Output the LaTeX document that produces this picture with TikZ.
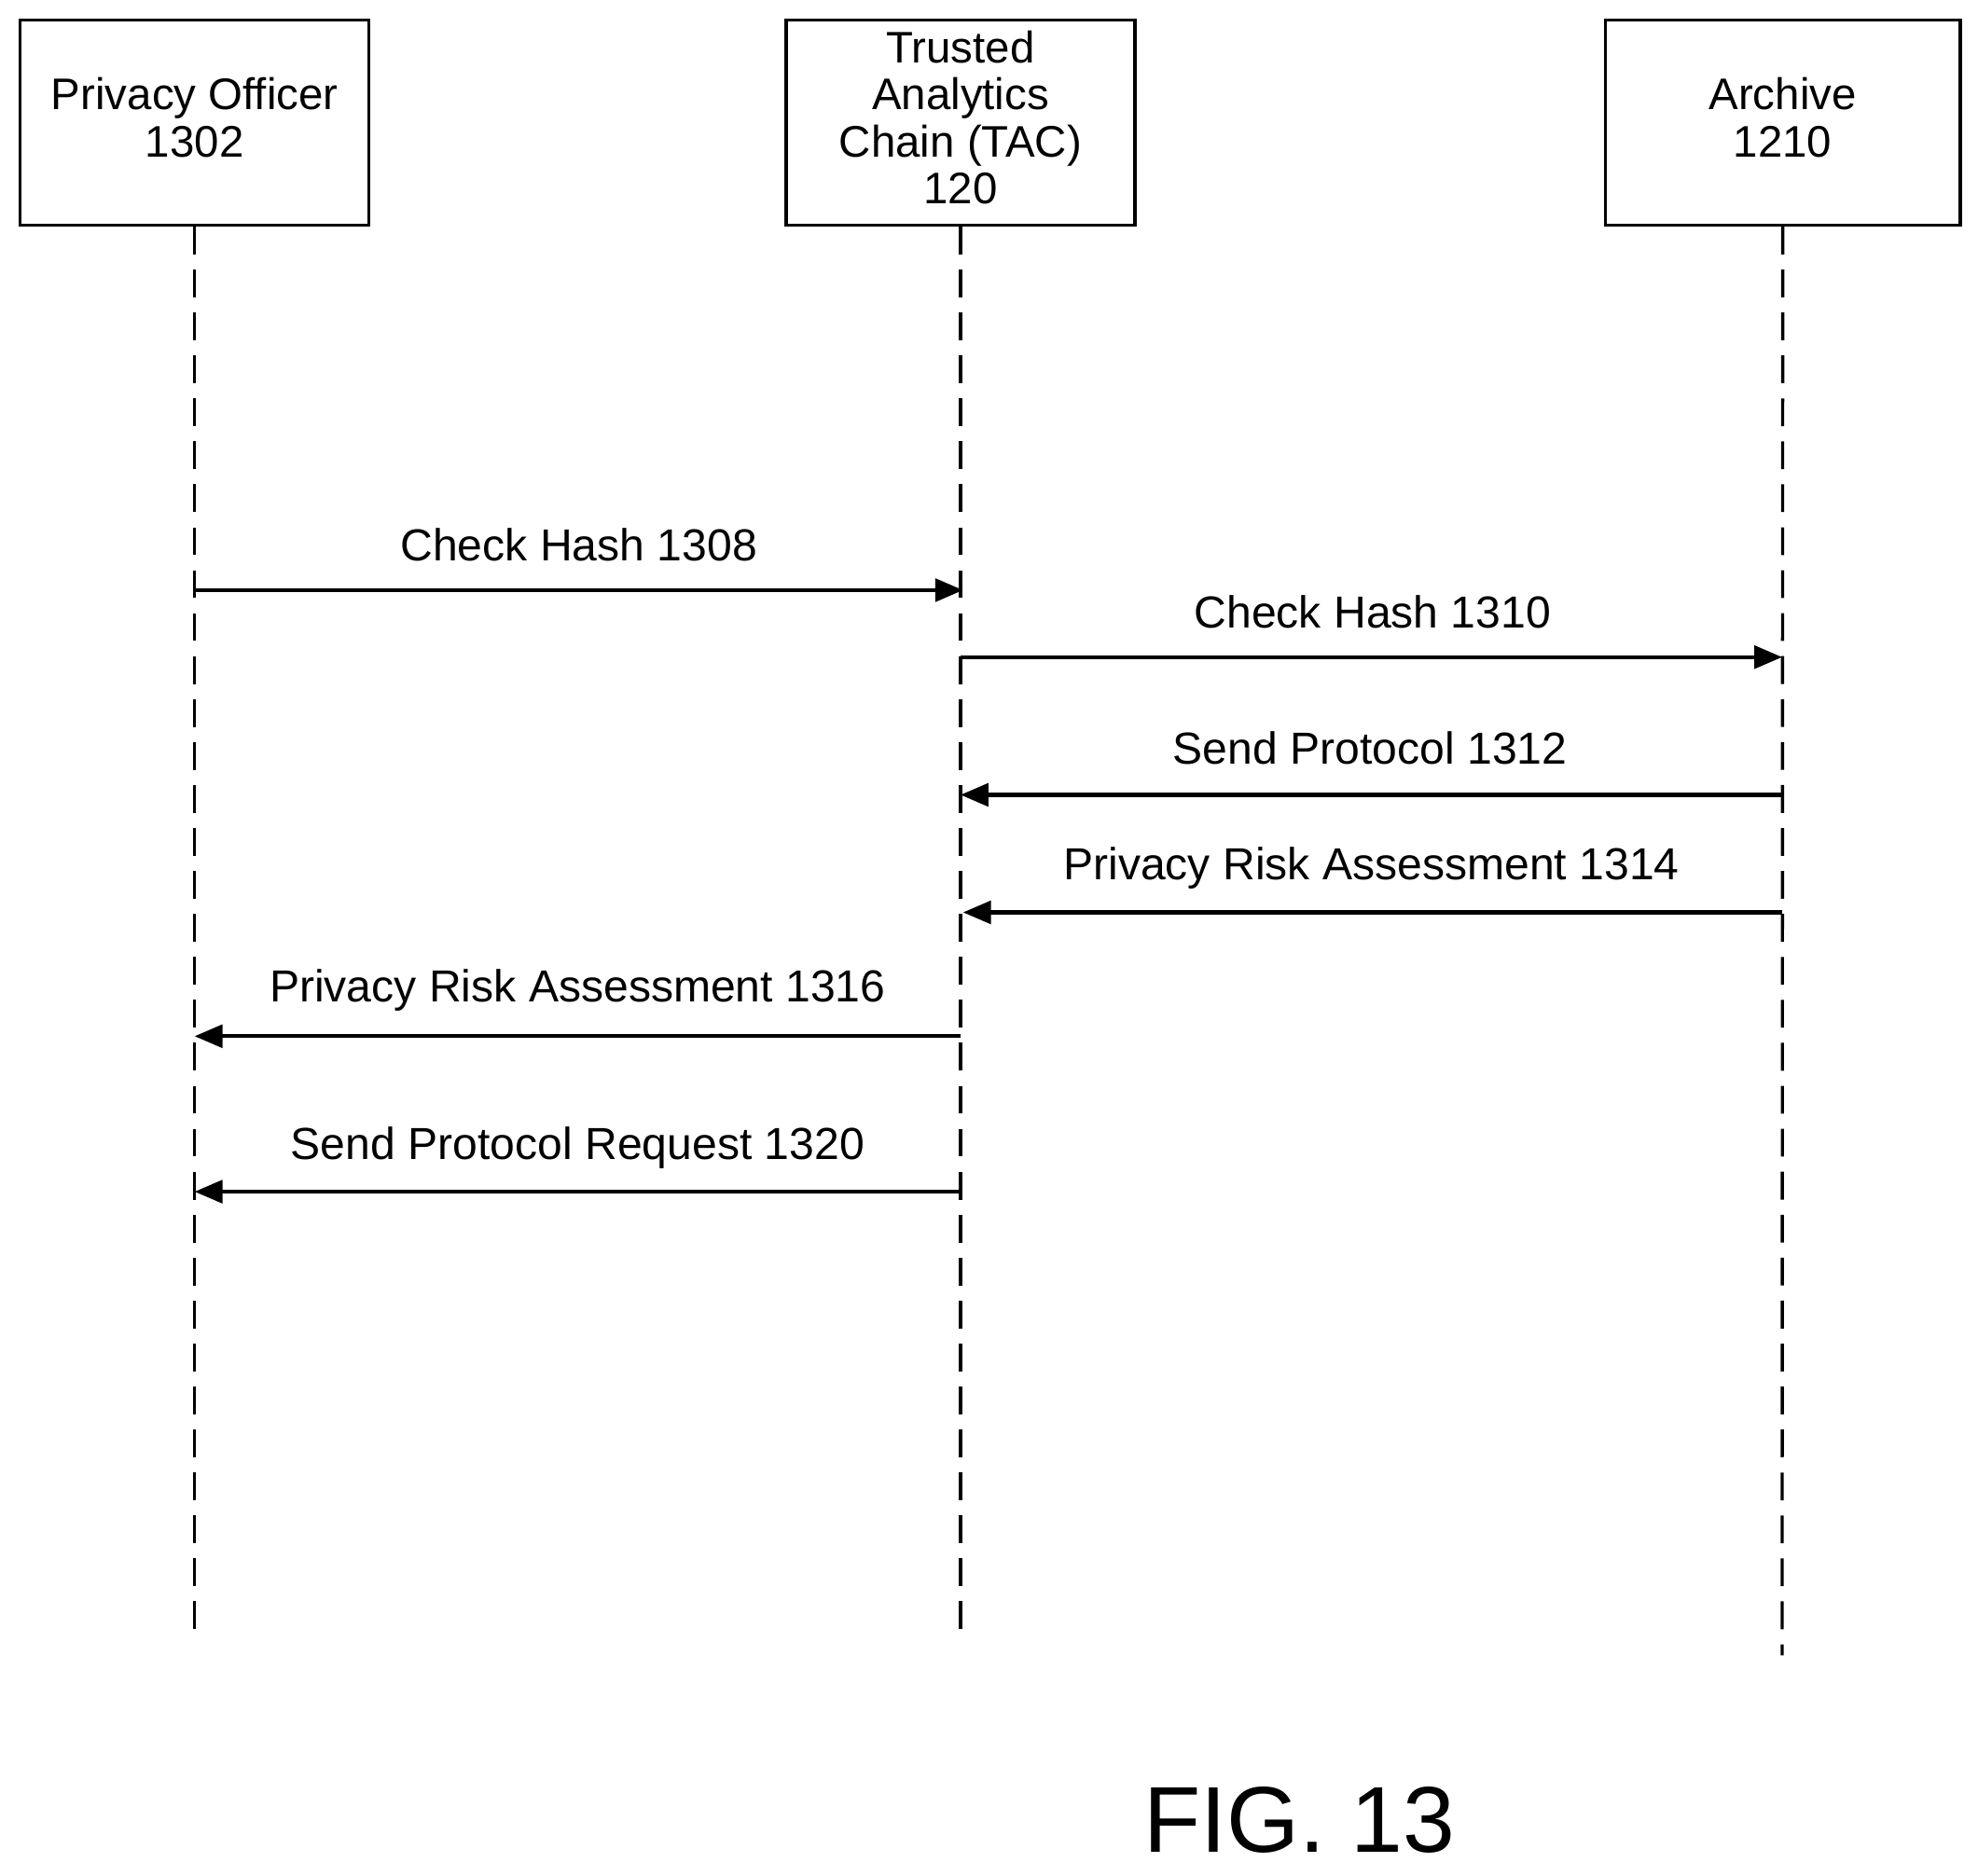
\documentclass[tikz,border=0pt]{standalone}
\usepackage{fontspec}
\setmainfont{Liberation Sans}
\usetikzlibrary{arrows.meta}
\begin{document}
\begin{tikzpicture}[x=1pt,y=-1pt,
  box/.style={draw,line width=2.5pt,minimum width=276pt,minimum height=162pt,inner sep=0pt},
  btext/.style={align=center,font=\fontsize{35}{37}\selectfont,inner sep=0pt},
  life/.style={line width=2.5pt,dash pattern=on 22pt off 12pt},
  msg/.style={line width=3pt,-{Triangle[length=22pt,width=18pt]}},
  lbl/.style={font=\fontsize{35.5}{37}\selectfont}]
\useasboundingbox (0,0) rectangle (1565,1484);
\node[box] (po) at (154,97) {};
\node[box] (tac) at (760,97) {};
\node[box,minimum width=281pt] (ar) at (1410.5,97) {};
\node[btext] (pot) at (154,93) {Privacy Officer\\1302};
\node[btext] (tact) at (760,93) {Trusted\\Analytics\\Chain (TAC)\\120};
\node[btext] (art) at (1410.5,93) {Archive\\1210};
\coordinate (poe) at (154,1292);
\coordinate (tace) at (760,1292);
\coordinate (are) at (1410,1310);
\draw[life] (po.south) -- (poe);
\draw[life] (tac.south) -- (tace);
\draw[life] (ar.south) -- (are);
\coordinate (a1) at (154,467); \coordinate (b1) at (762,467);
\coordinate (a2) at (760,520); \coordinate (b2) at (1410,520);
\coordinate (a3) at (1410,629); \coordinate (b3) at (760,629);
\coordinate (a4) at (1410,722); \coordinate (b4) at (762,722);
\coordinate (a5) at (760,820); \coordinate (b5) at (154,820);
\coordinate (a6) at (760,943); \coordinate (b6) at (154,943);
\draw[msg] (a1) -- (b1);
\draw[msg] (a2) -- (b2);
\draw[msg] (a3) -- (b3);
\draw[msg] (a4) -- (b4);
\draw[msg] (a5) -- (b5);
\draw[msg] (a6) -- (b6);
\node[lbl] (l1) at (458,431) {Check Hash 1308};
\node[lbl] (l2) at (1086,484) {Check Hash 1310};
\node[lbl] (l3) at (1084,592) {Send Protocol 1312};
\node[lbl] (l4) at (1085,687) {Privacy Risk Assessment 1314};
\node[lbl] (l5) at (457,784) {Privacy Risk Assessment 1316};
\node[lbl] (l6) at (457,908) {Send Protocol Request 1320};
\node[font=\fontsize{74}{76}\selectfont] (fig) at (1028,1440) {FIG. 13};
\end{tikzpicture}
\end{document}
